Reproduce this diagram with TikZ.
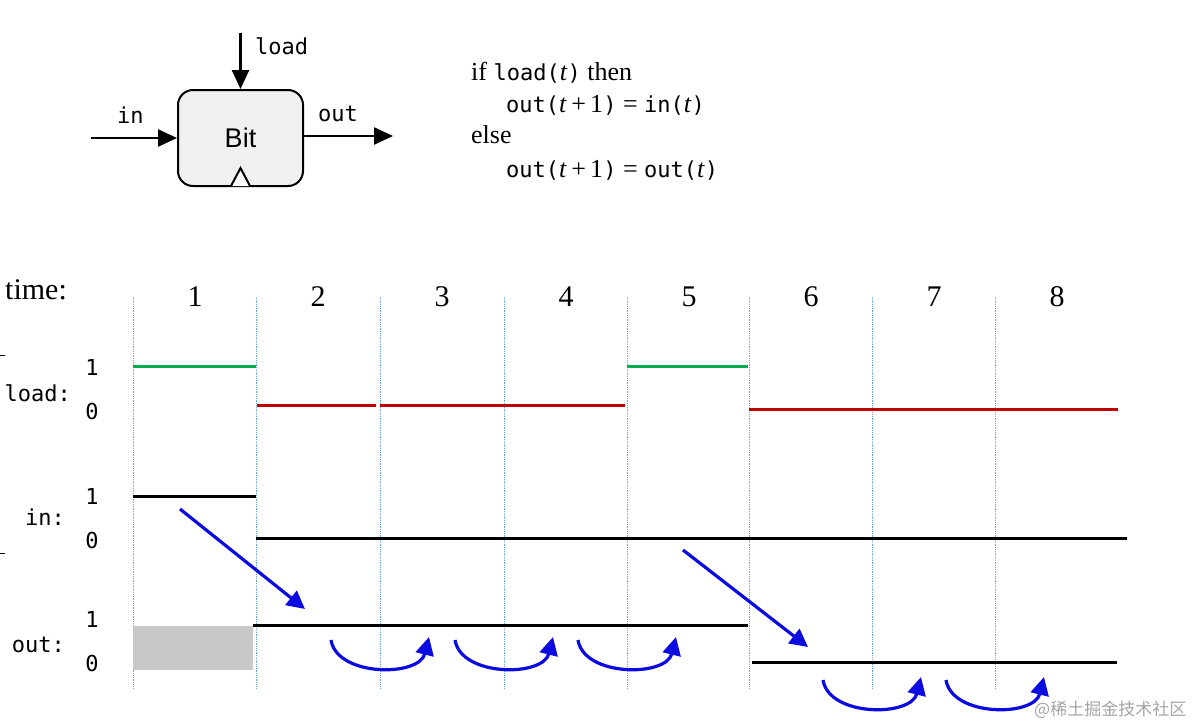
\documentclass[tikz,border=0pt]{standalone}
\usepackage{fontspec}
\setmainfont{Liberation Serif}
\setsansfont{Liberation Sans}
\setmonofont{DejaVu Sans Mono}
\newfontfamily\cjkfont{Noto Sans CJK SC}
\usetikzlibrary{arrows.meta,calc}
\definecolor{sgreen}{RGB}{0,176,80}
\definecolor{sred}{RGB}{192,0,0}
\definecolor{gridblue}{RGB}{110,165,215}
\definecolor{arrblue}{RGB}{10,10,225}
\definecolor{boxfill}{RGB}{240,240,240}
\definecolor{undef}{RGB}{200,200,200}
\newcommand{\mt}[1]{{\fontsize{22}{24}\selectfont\ttfamily #1}}
\begin{document}
\begin{tikzpicture}[x=1pt,y=-1pt,
  gridline/.style={gridblue,line width=0.8pt,densely dotted},
  sig/.style={line width=3pt},
  sigg/.style={sig,sgreen},
  sigr/.style={sig,sred},
  sigb/.style={sig,black},
  blkarr/.style={line width=2.5pt,-{Triangle[length=19pt,width=17pt]}},
  bluearr/.style={arrblue,line width=3.2pt,-{Triangle[length=18pt,width=18pt]}},
  monolab/.style={font=\fontsize{22}{24}\selectfont\ttfamily,inner sep=0pt},
  serlab/.style={font=\fontsize{30}{34}\selectfont\rmfamily,inner sep=0pt},
  eqline/.style={anchor=base west,inner sep=0pt,font=\fontsize{26}{30}\selectfont\rmfamily},
  bitbox/.style={draw,line width=2pt,fill=boxfill,rounded corners=15pt,minimum width=125pt,minimum height=96pt,font=\fontsize{27}{30}\selectfont\sffamily}
]
\useasboundingbox (0,0) rectangle (1200,724);
\fill[white] (0,0) rectangle (1200,724);

% ---- Bit block ----
\node[bitbox] (bit) at (240.5,138) {Bit};
\draw[line width=2pt,fill=white] ($(bit.south)+(-9.5,-1)$) -- ($(bit.south)+(0,-19)$) -- ($(bit.south)+(9.5,-1)$);
\coordinate (loadsrc) at (240.5,33);
\coordinate (insrc) at (91,138);
\coordinate (outdst) at (393,136);
\draw[blkarr] (loadsrc) -- (bit.north);
\draw[blkarr] (insrc) -- (insrc -| bit.west);
\draw[blkarr] (outdst -| bit.east) -- (outdst);
\node[monolab,anchor=base west] (loadlab) at (255,54) {load};
\node[monolab,anchor=base west] (inlab) at (117,123) {in};
\node[monolab,anchor=base west] (outlab) at (318,121) {out};

% ---- equations ----
\node[eqline] (eq1) at (471,80) {if \mt{load(}\textit{t}\mt{)} then};
\node[eqline] (eq2) at (506,112) {\mt{out(}\textit{t}\,+\,1\mt{)} = \mt{in(}\textit{t}\mt{)}};
\node[eqline] (eq3) at (471,143) {else};
\node[eqline] (eq4) at (506,177) {\mt{out(}\textit{t}\,+\,1\mt{)} = \mt{out(}\textit{t}\mt{)}};

% ---- timing grid ----
\node[serlab,anchor=base west] (timelab) at (5,299) {time:};
\foreach \x/\n [count=\i] in {133/1,256/2,380/3,504/4,627/5,749/6,872/7,995/8}{
  \draw[gridline] (\x,297) -- (\x,688);
  \node[serlab] (t\i) at (\x+62,297) {\n};
}

% left labels
\node[monolab] (l1) at (92,367) {1};
\node[monolab,anchor=east] (lload) at (71,393) {load:};
\node[monolab] (l0) at (92,411) {0};
\node[monolab] (i1) at (92,496) {1};
\node[monolab,anchor=east] (lin) at (65,517) {in:};
\node[monolab] (i0) at (92,540) {0};
\node[monolab] (o1) at (92,619) {1};
\node[monolab,anchor=east] (lout) at (65,645) {out:};
\node[monolab] (o0) at (92,663) {0};
\draw[line width=1pt] (0,355) -- (5,355);
\draw[line width=1pt] (0,553) -- (5,553);

% load signal
\draw[sigg] (133,366) -- (256,366);
\draw[sigr] (257,405) -- (376,405);
\draw[sigr] (380,405) -- (625,405);
\draw[sigg] (627,366) -- (748,366);
\draw[sigr] (749,409) -- (1118,409);

% in signal
\draw[sigb] (133,496) -- (256,496);
\draw[sigb] (256,538) -- (1127,538);

% out signal
\fill[undef] (133,626) rectangle (253,670);
\draw[sigb] (253,625) -- (748,625);
\draw[sigb] (752,662) -- (1117,662);

% blue arrows
\coordinate (da1s) at (180,509);
\coordinate (da1e) at (305,609);
\coordinate (da2s) at (683,550);
\coordinate (da2e) at (808,647);
\draw[bluearr] (da1s) -- (da1e);
\draw[bluearr] (da2s) -- (da2e);
\foreach \gx/\gy [count=\k] in {380/640,504/640,627/640,872/680,995/680}{
  \coordinate (cs\k) at (\gx-49,\gy);
  \coordinate (ce\k) at (\gx+49,\gy-3);
  \draw[bluearr] (cs\k) .. controls ($(cs\k)+(6,37)$) and ($(ce\k)+(-10,40)$) .. (ce\k);
}

% watermark
\node[anchor=base west,inner sep=0pt,text=black!35,font=\fontsize{17}{20}\selectfont\cjkfont] (wm) at (1034,715) {@稀土掘金技术社区};
\end{tikzpicture}
\end{document}
